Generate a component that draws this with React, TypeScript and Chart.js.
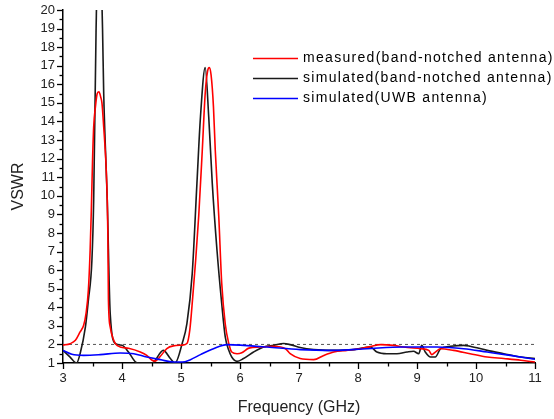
import React, { useEffect, useRef } from "react";
import { Chart, registerables } from "chart.js";

Chart.register(...registerables);

const measuredFreq = [3.0, 3.12, 3.21, 3.29, 3.35, 3.39, 3.43, 3.46, 3.48, 3.5, 3.52, 3.55, 3.58, 3.61, 3.64, 3.66, 3.69, 3.73, 3.75, 3.76, 3.77, 3.8, 3.85, 3.89, 3.97, 4.11, 4.31, 4.42, 4.51, 4.56, 4.65, 4.76, 4.87, 5.02, 5.1, 5.15, 5.2, 5.25, 5.3, 5.36, 5.41, 5.45, 5.48, 5.51, 5.55, 5.58, 5.64, 5.69, 5.75, 5.81, 5.86, 5.95, 6.03, 6.15, 6.34, 6.57, 6.77, 6.85, 7.02, 7.25, 7.42, 7.59, 7.81, 8.04, 8.21, 8.38, 8.6, 8.77, 9.06, 9.2, 9.25, 9.31, 9.4, 9.62, 9.9, 10.19, 10.47, 10.76, 11.0];
const measuredVswr = [1.96, 2.04, 2.22, 2.67, 3.03, 3.66, 4.92, 7.07, 9.2, 11.8, 13.7, 14.8, 15.5, 15.6, 15.3, 15.0, 13.7, 11.6, 9.77, 8.0, 4.4, 2.94, 2.3, 2.04, 1.86, 1.79, 1.59, 1.41, 1.15, 1.1, 1.36, 1.78, 1.92, 1.96, 2.05, 2.8, 4.6, 6.6, 8.9, 12.4, 15.5, 16.7, 16.9, 16.5, 14.8, 12.5, 8.9, 5.3, 3.1, 2.05, 1.59, 1.5, 1.55, 1.8, 1.86, 1.9, 1.77, 1.5, 1.24, 1.18, 1.41, 1.59, 1.68, 1.77, 1.88, 1.99, 1.95, 1.86, 1.77, 1.68, 1.45, 1.59, 1.77, 1.68, 1.5, 1.32, 1.24, 1.15, 1.05];

const simulatedFreq = [3.0, 3.12, 3.23, 3.29, 3.38, 3.43, 3.49, 3.52, 3.56, 3.61, 3.67, 3.69, 3.73, 3.75, 3.8, 3.89, 4.0, 4.11, 4.23, 4.28, 4.51, 4.7, 4.82, 4.9, 5.02, 5.1, 5.19, 5.27, 5.33, 5.41, 5.47, 5.53, 5.61, 5.69, 5.75, 5.81, 5.86, 5.95, 6.06, 6.23, 6.4, 6.57, 6.74, 6.85, 7.02, 7.25, 7.59, 7.93, 8.21, 8.32, 8.49, 8.66, 8.83, 8.94, 9.03, 9.08, 9.14, 9.23, 9.31, 9.4, 9.57, 9.79, 9.9, 10.19, 10.47, 10.76, 11.0];
const simulatedVswr = [1.68, 1.32, 1.0, 1.5, 2.94, 4.38, 6.53, 9.77, 18.8, 25, 19, 15.5, 11.6, 9.77, 3.66, 2.04, 1.96, 1.59, 1.05, 1.0, 1.0, 1.68, 1.24, 1.0, 2.05, 3.12, 5.8, 10.67, 14.25, 16.9, 14.25, 10.67, 7.07, 4.2, 2.4, 1.68, 1.32, 1.09, 1.24, 1.59, 1.86, 1.95, 2.05, 1.99, 1.83, 1.72, 1.68, 1.72, 1.86, 1.59, 1.5, 1.5, 1.59, 1.63, 1.5, 1.95, 1.59, 1.32, 1.32, 1.77, 1.9, 1.95, 1.9, 1.68, 1.5, 1.32, 1.24];

const uwbFreq = [3.0, 3.15, 3.35, 3.63, 3.97, 4.2, 4.42, 4.65, 4.87, 5.02, 5.16, 5.33, 5.55, 5.78, 6.06, 6.46, 7.02, 7.59, 8.15, 8.77, 9.34, 9.79, 10.19, 10.58, 11.0];
const uwbVswr = [1.68, 1.47, 1.41, 1.45, 1.54, 1.5, 1.32, 1.18, 1.05, 1.05, 1.18, 1.45, 1.77, 1.99, 1.95, 1.86, 1.72, 1.68, 1.77, 1.86, 1.86, 1.77, 1.59, 1.41, 1.2];

const refFreq = [3, 11];
const refVswr = [2, 2];

const xTicks = [3, 4, 5, 6, 7, 8, 9, 10, 11];
const yTicks = [1, 2, 3, 4, 5, 6, 7, 8, 9, 10, 11, 12, 13, 14, 15, 16, 17, 18, 19, 20];

const seriesLabels = [
  "measured(band-notched antenna)",
  "simulated(band-notched antenna)",
  "simulated(UWB antenna)",
];
const seriesColors = ["#ff0000", "#1a1a1a", "#0000ff"];

const toPoints = (xs: number[], ys: number[]) => xs.map((x, i) => ({ x, y: ys[i] }));

const FONT = "'Liberation Sans', Arial, sans-serif";

const axisTicksPlugin = {
  id: "axisTicks",
  afterDraw(chart: any) {
    const { ctx, chartArea, scales } = chart;
    const xs = scales.x;
    const ys = scales.y;
    ctx.save();
    ctx.strokeStyle = "#000";
    ctx.lineWidth = 1.3;
    for (let v = ys.min; v <= ys.max + 1e-9; v += 0.5) {
      const y = Math.round(ys.getPixelForValue(v)) + 0.5;
      const major = Math.abs(v - Math.round(v)) < 1e-9;
      const len = major ? 6 : 3.5;
      ctx.beginPath();
      ctx.moveTo(chartArea.left, y);
      ctx.lineTo(chartArea.left - len, y);
      ctx.stroke();
    }
    for (let v = xs.min; v <= xs.max + 1e-9; v += 0.5) {
      const x = Math.round(xs.getPixelForValue(v)) + 0.5;
      const major = Math.abs(v - Math.round(v)) < 1e-9;
      const len = major ? 6 : 3.5;
      ctx.beginPath();
      ctx.moveTo(x, chartArea.bottom);
      ctx.lineTo(x, chartArea.bottom + len);
      ctx.stroke();
    }
    ctx.restore();
  },
};

const legendPlugin = {
  id: "customLegend",
  afterDatasetsDraw(chart: any) {
    const { ctx } = chart;
    ctx.save();
    ctx.font = `14px ${FONT}`;
    (ctx as any).letterSpacing = "1.3px";
    ctx.textBaseline = "middle";
    ctx.textAlign = "left";
    seriesLabels.forEach((label, i) => {
      const y = 58 + i * 20;
      ctx.strokeStyle = seriesColors[i];
      ctx.lineWidth = 1.6;
      ctx.beginPath();
      ctx.moveTo(253, y + 0.5);
      ctx.lineTo(298, y + 0.5);
      ctx.stroke();
      ctx.fillStyle = "#000";
      ctx.fillText(label, 303, y);
    });
    ctx.restore();
  },
};

export default function App() {
  const ref = useRef<HTMLCanvasElement | null>(null);
  useEffect(() => {
    if (!ref.current) return;
    const lineCommon = {
      borderWidth: 1.6,
      pointRadius: 0,
      fill: false,
      cubicInterpolationMode: "monotone" as const,
    };
    const chart = new Chart(ref.current, {
      type: "line",
      data: {
        datasets: [
          { ...lineCommon, label: seriesLabels[2], data: toPoints(uwbFreq, uwbVswr), borderColor: seriesColors[2] },
          { ...lineCommon, label: seriesLabels[0], data: toPoints(measuredFreq, measuredVswr), borderColor: seriesColors[0] },
          { ...lineCommon, label: seriesLabels[1], data: toPoints(simulatedFreq, simulatedVswr), borderColor: seriesColors[1] },
          {
            label: "VSWR = 2",
            data: toPoints(refFreq, refVswr),
            borderColor: "#555",
            borderWidth: 1,
            borderDash: [3, 3],
            pointRadius: 0,
            fill: false,
          },
        ],
      },
      options: {
        responsive: false,
        animation: false,
        devicePixelRatio: 1,
        layout: { padding: { left: 0, top: 10, right: 19, bottom: 0 } },
        plugins: { legend: { display: false }, tooltip: { enabled: false } },
        scales: {
          x: {
            type: "linear",
            min: 3,
            max: 11,
            afterFit: (s: any) => { s.height = 56; s.paddingLeft = 0; s.paddingRight = 0; },
            afterBuildTicks: (s: any) => { s.ticks = xTicks.map((v) => ({ value: v })); },
            grid: { display: false, drawTicks: false },
            border: { display: true, color: "#000", width: 1.5 },
            ticks: { font: { family: FONT, size: 13 }, color: "#222", padding: 8, maxRotation: 0, autoSkip: false },
            title: { display: true, text: "Frequency (GHz)", font: { family: FONT, size: 16 }, color: "#222", padding: { top: 0, bottom: 2 } },
          },
          y: {
            type: "linear",
            min: 1,
            max: 20,
            afterFit: (s: any) => { s.width = 63; s.paddingTop = 0; s.paddingBottom = 0; },
            afterBuildTicks: (s: any) => { s.ticks = yTicks.map((v) => ({ value: v })); },
            grid: { display: false, drawTicks: false },
            border: { display: true, color: "#000", width: 1.5 },
            ticks: { font: { family: FONT, size: 13 }, color: "#222", padding: 8, autoSkip: false },
            title: { display: true, text: "VSWR", font: { family: FONT, size: 16 }, color: "#222", padding: { top: 9, bottom: 0 } },
          },
        },
      },
      plugins: [axisTicksPlugin, legendPlugin],
    });
    return () => chart.destroy();
  }, []);
  return (
    <div style={{ position: "absolute", left: 0, top: 0, width: 554, height: 419, background: "#fff" }}>
      <canvas ref={ref} width={554} height={419} />
    </div>
  );
}
